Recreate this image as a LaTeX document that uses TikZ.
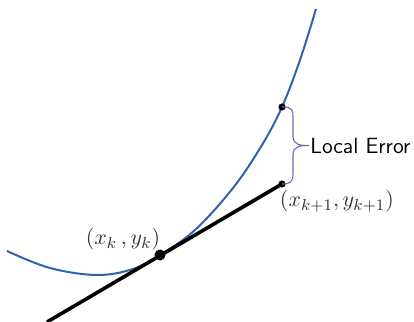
\documentclass[tikz,border=0pt]{standalone}
\definecolor{curveblue}{RGB}{46,100,170}
\definecolor{bracepurple}{RGB}{118,100,168}
\tikzset{
  curvestyle/.style={curveblue,line width=1pt},
  tangentstyle/.style={black,line width=1.8pt},
  bigdot/.style={circle,fill=black,inner sep=0pt,minimum size=5.5pt},
  smalldot/.style={circle,fill=black,inner sep=0pt,minimum size=3.6pt},
  bracestyle/.style={bracepurple,line width=0.55pt},
  mathlabel/.style={text=black!80,inner sep=0pt,font=\fontsize{11}{13}\selectfont},
  textlabel/.style={inner sep=0pt,anchor=west,font=\fontsize{11}{13}\selectfont\sffamily}
}
\begin{document}
\begin{tikzpicture}[x=0.5pt,y=-0.5pt]
\useasboundingbox (0,0) rectangle (414,322);
% curve
\draw[curvestyle] plot[smooth,tension=0.6] coordinates {(7,251) (50,268) (97,275) (133,269) (160,255) (195,230) (233,188) (262,145) (282,107) (300,60) (316,9)};
% coordinates
\coordinate (lstart) at (47,322);
\coordinate (lend) at (282,184);
\coordinate (tp) at (160,255);
\coordinate (ctop) at (282,107);
% tangent line
\draw[tangentstyle] (lstart) -- (lend);
% dots
\node[bigdot] (dk) at (tp) {};
\node[smalldot] (dtop) at (ctop) {};
\node[smalldot] (dnext) at (lend) {};
% brace
\draw[bracestyle] (dtop.center) .. controls (293,107) and (293,110) .. (293,118) -- (293,136) .. controls (293,145) and (300,145.5) .. (309,145.5)
  .. controls (300,145.5) and (293,146) .. (293,155) -- (293,174) .. controls (293,182) and (290,184) .. (dnext.center);
% labels
\node[textlabel] (le) at (310,146) {Local Error};
\node[mathlabel] (lk) at (123,239) {$\left(x_k\,, y_k\right)$};
\node[mathlabel] (lk1) at (337,201) {$\left(x_{k+1}, y_{k+1}\right)$};
\end{tikzpicture}
\end{document}
